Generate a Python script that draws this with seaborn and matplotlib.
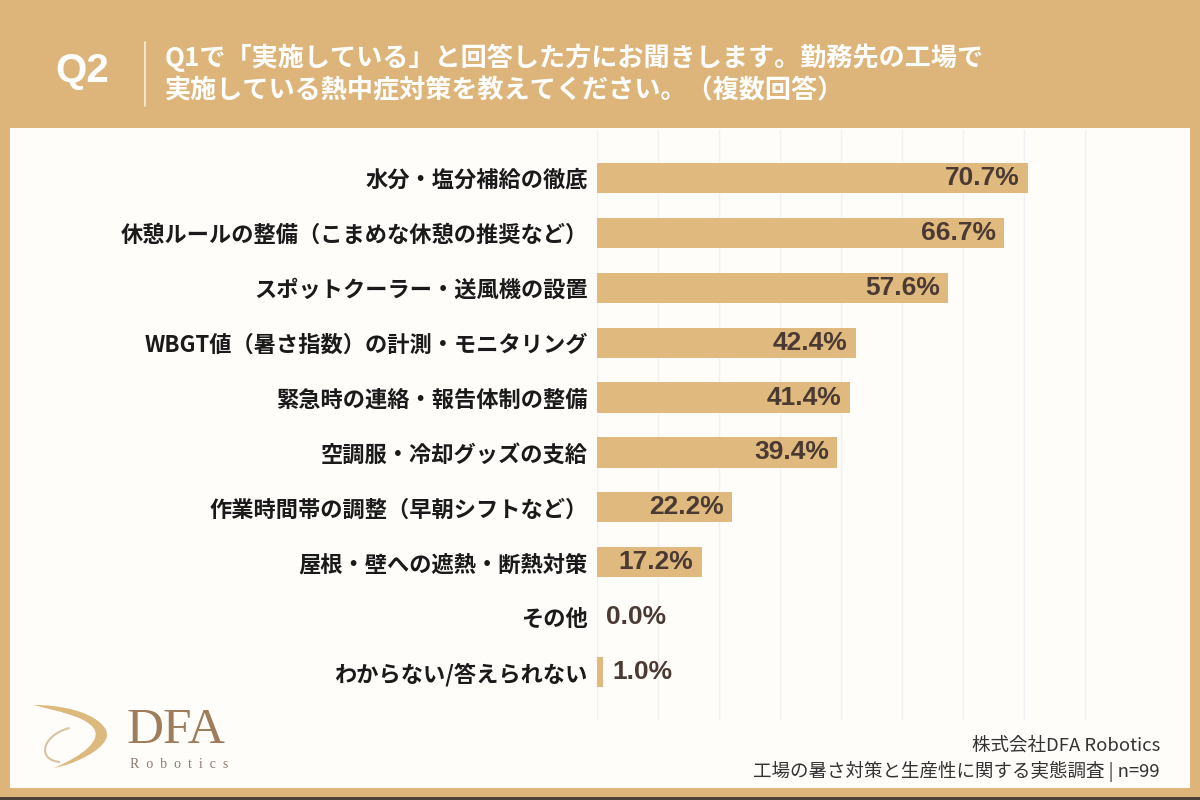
import numpy as np
import pandas as pd
import matplotlib.pyplot as plt
import seaborn as sns
from matplotlib.patches import Rectangle, PathPatch
from matplotlib.lines import Line2D
from matplotlib.path import Path

# data
categories = ['水分・塩分補給の徹底',
              '休憩ルールの整備（こまめな休憩の推奨など）',
              'スポットクーラー・送風機の設置',
              'WBGT値（暑さ指数）の計測・モニタリング',
              '緊急時の連絡・報告体制の整備',
              '空調服・冷却グッズの支給',
              '作業時間帯の調整（早朝シフトなど）',
              '屋根・壁への遮熱・断熱対策',
              'その他',
              'わからない/答えられない']
values = [70.7, 66.7, 57.6, 42.4, 41.4, 39.4, 22.2, 17.2, 0.0, 1.0]

title_q = 'Q2'
title_lines = ['Q1で「実施している」と回答した方にお聞きします。勤務先の工場で',
               '実施している熱中症対策を教えてください。（複数回答）']
footer_lines = ['株式会社DFA Robotics',
                '工場の暑さ対策と生産性に関する実態調査 | n=99']

df = pd.DataFrame({'category': categories, 'value': values})

frame_color = '#ddb57b'
bar_color = '#e0b97e'
value_color = '#4a3a33'

sns.set_theme(style='white')
plt.rcParams['font.family'] = ['Noto Sans CJK JP', 'DejaVu Sans']

W, H = 1200, 800
fig = plt.figure(figsize=(12, 8), dpi=100)
fig.patch.set_facecolor(frame_color)

# white panel + dark bottom strip
fig.add_artist(Rectangle((10 / W, 12 / H), 1180 / W, 660 / H, transform=fig.transFigure,
                         facecolor='#fffdfa', edgecolor='none', zorder=0))
fig.add_artist(Rectangle((0, 0), 1, 3 / H, transform=fig.transFigure,
                         facecolor='#4d4036', edgecolor='none', zorder=0))

# header
fig.text(55 / W, 1 - 71 / H, title_q, fontsize=29, fontweight='bold', color='white',
         va='center', ha='left', family=['Liberation Sans', 'DejaVu Sans'])
fig.add_artist(Line2D([145 / W, 145 / W], [1 - 42 / H, 1 - 106 / H], transform=fig.transFigure,
                      color='white', alpha=0.75, lw=1.2))
fig.text(165 / W, 1 - 58 / H, title_lines[0], fontsize=18.8, fontweight='bold', color='white',
         va='center', ha='left')
fig.text(165 / W, 1 - 91 / H, title_lines[1], fontsize=18.8, fontweight='bold', color='white',
         va='center', ha='left')

# chart
ax = fig.add_axes([597 / W, 80 / H, 549 / W, 590 / H])
ax.set_facecolor('none')
sns.barplot(data=df, x='value', y='category', orient='h', color=bar_color,
            width=0.55, ax=ax, saturation=1)
for p in ax.patches:
    p.set_edgecolor('none')

ax.set_xlim(0, 90)
ax.set_ylim(9 + 48 / 55, -48 / 55)
ax.set_xticks(np.arange(0, 90, 10))
ax.xaxis.grid(True, color='#f1f0f3', lw=1)
ax.set_axisbelow(True)
ax.tick_params(axis='x', length=0, labelbottom=False)
ax.tick_params(axis='y', length=0, pad=6.5, labelsize=16, labelcolor='#1a1a1a')
for lbl in ax.get_yticklabels():
    lbl.set_fontweight('bold')
ax.set_xlabel('')
ax.set_ylabel('')
sns.despine(ax=ax, left=True, bottom=True)

for i, v in enumerate(values):
    if v >= 5:
        ax.annotate(f'{v:.1f}%', (v, i), xytext=(-6, 0), textcoords='offset points',
                    ha='right', va='center', fontsize=19, fontweight='bold', color=value_color,
                    family=['Liberation Sans', 'DejaVu Sans'])
    else:
        ax.annotate(f'{v:.1f}%', (v, i), xytext=(6.5, 0), textcoords='offset points',
                    ha='left', va='center', fontsize=19, fontweight='bold', color=value_color,
                    family=['Liberation Sans', 'DejaVu Sans'])

# footer
fig.text(1160 / W, 1 - 746 / H, footer_lines[0], fontsize=13.3, color='#333333',
         ha='right', va='center')
fig.text(1160 / W, 1 - 771 / H, footer_lines[1], fontsize=13.3, color='#333333',
         ha='right', va='center')

# logo
swoosh = Path([(0.028, 1 - 705 / H), (0.07, 1 - 705 / H), (0.095, 1 - 725 / H), (0.088, 1 - 740 / H),
               (0.083, 1 - 752 / H), (0.06, 1 - 765 / H), (0.045, 1 - 768 / H),
               (0.07, 1 - 755 / H), (0.085, 1 - 740 / H), (0.078, 1 - 728 / H),
               (0.07, 1 - 716 / H), (0.05, 1 - 712 / H), (0.028, 1 - 705 / H)],
              [Path.MOVETO, Path.CURVE4, Path.CURVE4, Path.CURVE4,
               Path.CURVE4, Path.CURVE4, Path.CURVE4,
               Path.CURVE4, Path.CURVE4, Path.CURVE4,
               Path.CURVE4, Path.CURVE4, Path.CURVE4])
fig.add_artist(PathPatch(swoosh, transform=fig.transFigure, facecolor='#d9b36f',
                         edgecolor='none', alpha=0.9))
loop = Path([(0.058, 1 - 728 / H), (0.035, 1 - 735 / H), (0.03, 1 - 760 / H), (0.05, 1 - 762 / H)],
            [Path.MOVETO, Path.CURVE4, Path.CURVE4, Path.CURVE4])
fig.add_artist(PathPatch(loop, transform=fig.transFigure, facecolor='none',
                         edgecolor='#cfb48e', lw=1.5, alpha=0.8))
fig.text(127 / W, 1 - 731 / H, 'DFA', fontsize=37, color='#9e7c5c', ha='left', va='center',
         family=['Liberation Serif', 'DejaVu Serif'])
fig.text(130 / W, 1 - 765 / H, 'R  o  b  o  t  i  c  s', fontsize=10, color='#8a7b72', ha='left',
         va='center', family=['Liberation Serif', 'DejaVu Serif'])

fig.savefig('out.png', dpi=100, facecolor=fig.get_facecolor())
